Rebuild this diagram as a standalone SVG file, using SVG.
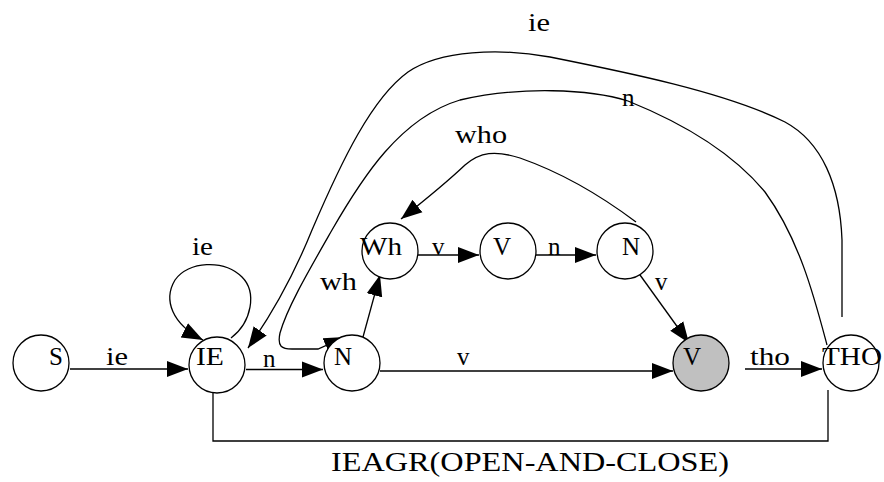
<svg xmlns="http://www.w3.org/2000/svg" width="884" height="482" viewBox="0 0 884 482">
<style>
  .node { fill: #ffffff; stroke: #000; stroke-width: 1.3; }
  .final { fill: #c0c0c0; stroke: #000; stroke-width: 1.3; }
  .edge { fill: none; stroke: #000; stroke-width: 1.3; }
  text { font-family: "Liberation Serif", "Times New Roman", serif; font-size: 25px; fill: #000; }
  .big { font-size: 28px; }
</style>
<defs>
  <marker id="arr" markerUnits="userSpaceOnUse" markerWidth="22" markerHeight="18" refX="21" refY="8" orient="auto" viewBox="0 0 22 16">
    <path d="M0,0 L21,8 L0,16 z" fill="#000"/>
  </marker>
</defs>
<rect width="884" height="482" fill="#fff"/>
<g id="connectors">
  <line class="edge" x1="70" y1="369" x2="188" y2="369" marker-end="url(#arr)"/>
  <line class="edge" x1="246" y1="369.5" x2="323" y2="369.5" marker-end="url(#arr)"/>
  <line class="edge" x1="380" y1="371" x2="673" y2="371" marker-end="url(#arr)"/>
  <line class="edge" x1="745" y1="369" x2="822" y2="369" marker-end="url(#arr)"/>
  <line class="edge" x1="418" y1="255" x2="479" y2="255" marker-end="url(#arr)"/>
  <line class="edge" x1="536" y1="255" x2="596" y2="255" marker-end="url(#arr)"/>
  <line class="edge" x1="363" y1="337" x2="380" y2="275" marker-end="url(#arr)"/>
  <line class="edge" x1="635" y1="268" x2="689" y2="343" marker-end="url(#arr)"/>
  <path class="edge" d="M231,338 C252,322 257,292 242,277 C224,259 188,261 175,280 C163,300 172,324 203,340" marker-end="url(#arr)"/>
  <path class="edge" d="M842,317 L842,240 C840,185 822,142 785,122 C725,92 625,72 550,57 C500,48 440,50 408,72 C372,98 342,160 312,230 C295,272 275,310 248,348" marker-end="url(#arr)"/>
  <path class="edge" d="M827,345 C815,300 800,240 765,192 C732,152 680,122 628,101 C590,89 520,86 460,100 C400,118 362,178 332,230 C308,272 287,308 280,333 C277,347 282,349 292,349 L318,349 L345,337" marker-end="url(#arr)"/>
  <path class="edge" d="M636,222 C600,195 560,172 520,158 C495,150 480,152 465,165 C445,184 425,200 401,219" marker-end="url(#arr)"/>
  <polyline class="edge" points="213,393 213,441 828,441 828,390"/>
</g>
<g id="node-S"><circle class="node" cx="41" cy="363" r="28"/><text x="49" y="365">S</text></g>
<g id="node-IE"><circle class="node" cx="217" cy="365" r="28"/><text x="196" y="365" textLength="28" lengthAdjust="spacingAndGlyphs">IE</text></g>
<g id="node-N1"><circle class="node" cx="352" cy="363" r="28"/><text x="334" y="365">N</text></g>
<g id="node-Wh"><circle class="node" cx="390" cy="251" r="28"/><text x="360" y="255" textLength="42" lengthAdjust="spacingAndGlyphs">Wh</text></g>
<g id="node-V1"><circle class="node" cx="508" cy="251" r="28"/><text x="493" y="255">V</text></g>
<g id="node-N2"><circle class="node" cx="625" cy="251" r="28"/><text x="622" y="255">N</text></g>
<g id="node-V2"><circle class="final" cx="701" cy="363" r="28"/><text x="683" y="365">V</text></g>
<g id="node-THO"><circle class="node" cx="851" cy="363" r="28"/><text x="822" y="365" textLength="60" lengthAdjust="spacingAndGlyphs">THO</text></g>
<g id="labels">
  <text x="106" y="365" textLength="22" lengthAdjust="spacingAndGlyphs">ie</text>
  <text x="263" y="367">n</text>
  <text x="457" y="365">v</text>
  <text x="432" y="255">v</text>
  <text x="548" y="255">n</text>
  <text x="320" y="290" textLength="37" lengthAdjust="spacingAndGlyphs">wh</text>
  <text x="655" y="290">v</text>
  <text x="750" y="365" textLength="40" lengthAdjust="spacingAndGlyphs">tho</text>
  <text x="528" y="31" textLength="22" lengthAdjust="spacingAndGlyphs">ie</text>
  <text x="622" y="106">n</text>
  <text x="455" y="143" textLength="52" lengthAdjust="spacingAndGlyphs">who</text>
  <text x="192" y="255" textLength="21" lengthAdjust="spacingAndGlyphs">ie</text>
  <text class="big" x="331" y="471" textLength="398" lengthAdjust="spacingAndGlyphs">IEAGR(OPEN-AND-CLOSE)</text>
</g>
</svg>
